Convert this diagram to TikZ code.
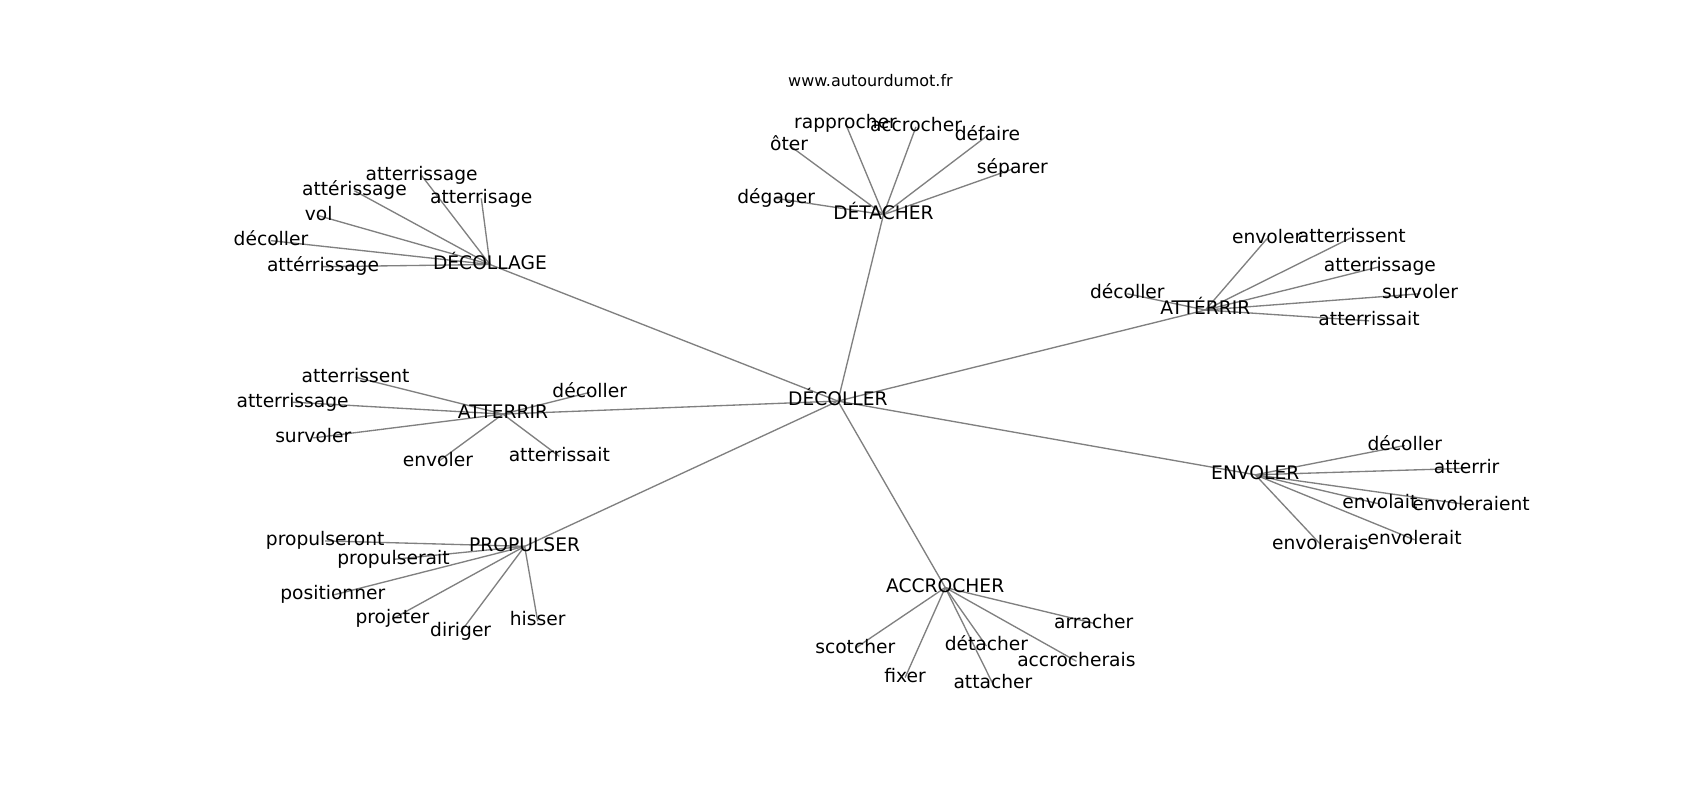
\documentclass[tikz,border=0pt]{standalone}
\usepackage{fontspec}
\setmainfont{DejaVu Sans}
\usetikzlibrary{backgrounds}
\tikzset{
  lbl/.style={inner sep=0pt, anchor=center, font=\fontsize{14}{16}\selectfont, text height=10.6pt, text depth=3.3pt, text=black},
  ttl/.style={inner sep=0pt, anchor=center, font=\fontsize{12}{14}\selectfont, text height=9.1pt, text depth=2.8pt, text=black},
  edge/.style={draw=gray, line width=1pt}
}
\begin{document}
\begin{tikzpicture}[x=0.813pt, y=-0.813pt]
\useasboundingbox (0,0) rectangle (1568.3,738);
\node[ttl] (title) at (803,76) {www.autourdumot.fr};
\node[lbl] (c) at (773,370) {DÉCOLLER};
% DECOLLAGE
\node[lbl] (h1) at (452,244) {DÉCOLLAGE};
\node[lbl] (a1) at (389,162) {atterrissage};
\node[lbl] (a2) at (327,176) {attérissage};
\node[lbl] (a3) at (444,183) {atterrisage};
\node[lbl] (a4) at (294,199) {vol};
\node[lbl] (a5) at (250,222) {décoller};
\node[lbl] (a6) at (298,246) {attérrissage};
% DETACHER
\node[lbl] (h2) at (815,198) {DÉTACHER};
\node[lbl] (b1) at (780,114) {rapprocher};
\node[lbl] (b2) at (845,117) {accrocher};
\node[lbl] (b3) at (911,125) {défaire};
\node[lbl] (b4) at (728,134) {ôter};
\node[lbl] (b5) at (934,156) {séparer};
\node[lbl] (b6) at (716,183) {dégager};
% ATTERRIR (accent)
\node[lbl] (h3) at (1112,286) {ATTÉRRIR};
\node[lbl] (d1) at (1169,220) {envoler};
\node[lbl] (d2) at (1247,219) {atterrissent};
\node[lbl] (d3) at (1273,246) {atterrissage};
\node[lbl] (d4) at (1040,271) {décoller};
\node[lbl] (d5) at (1310,271) {survoler};
\node[lbl] (d6) at (1263,296) {atterrissait};
% ATTERRIR
\node[lbl] (h4) at (464,382) {ATTERRIR};
\node[lbl] (e1) at (328,348) {atterrissent};
\node[lbl] (e2) at (544,362) {décoller};
\node[lbl] (e3) at (270,371) {atterrissage};
\node[lbl] (e4) at (289,404) {survoler};
\node[lbl] (e5) at (404,426) {envoler};
\node[lbl] (e6) at (516,421) {atterrissait};
% ENVOLER
\node[lbl] (h5) at (1158,438) {ENVOLER};
\node[lbl] (f1) at (1296,411) {décoller};
\node[lbl] (f2) at (1353,432) {atterrir};
\node[lbl] (f3) at (1273,465) {envolait};
\node[lbl] (f4) at (1357,466) {envoleraient};
\node[lbl] (f5) at (1218,502) {envolerais};
\node[lbl] (f6) at (1305,498) {envolerait};
% PROPULSER
\node[lbl] (h6) at (484,504) {PROPULSER};
\node[lbl] (g1) at (300,499) {propulseront};
\node[lbl] (g2) at (363,516) {propulserait};
\node[lbl] (g3) at (307,549) {positionner};
\node[lbl] (g4) at (362,571) {projeter};
\node[lbl] (g5) at (425,583) {diriger};
\node[lbl] (g6) at (496,573) {hisser};
% ACCROCHER
\node[lbl] (h7) at (872,542) {ACCROCHER};
\node[lbl] (k1) at (1009,575) {arracher};
\node[lbl] (k2) at (789,598) {scotcher};
\node[lbl] (k3) at (910,596) {détacher};
\node[lbl] (k4) at (993,610) {accrocherais};
\node[lbl] (k5) at (835,625) {fixer};
\node[lbl] (k6) at (916,631) {attacher};
\begin{pgfonlayer}{background}
\fill[white] (0,0) rectangle (1568.3,738);
\foreach \h in {h1,h2,h3,h4,h5,h6,h7}
  \draw[edge] (c.center) -- (\h.center);
\foreach \l in {a1,a2,a3,a4,a5,a6}
  \draw[edge] (h1.center) -- (\l.center);
\foreach \l in {b1,b2,b3,b4,b5,b6}
  \draw[edge] (h2.center) -- (\l.center);
\foreach \l in {d1,d2,d3,d4,d5,d6}
  \draw[edge] (h3.center) -- (\l.center);
\foreach \l in {e1,e2,e3,e4,e5,e6}
  \draw[edge] (h4.center) -- (\l.center);
\foreach \l in {f1,f2,f3,f4,f5,f6}
  \draw[edge] (h5.center) -- (\l.center);
\foreach \l in {g1,g2,g3,g4,g5,g6}
  \draw[edge] (h6.center) -- (\l.center);
\foreach \l in {k1,k2,k3,k4,k5,k6}
  \draw[edge] (h7.center) -- (\l.center);
\end{pgfonlayer}
\end{tikzpicture}
\end{document}
